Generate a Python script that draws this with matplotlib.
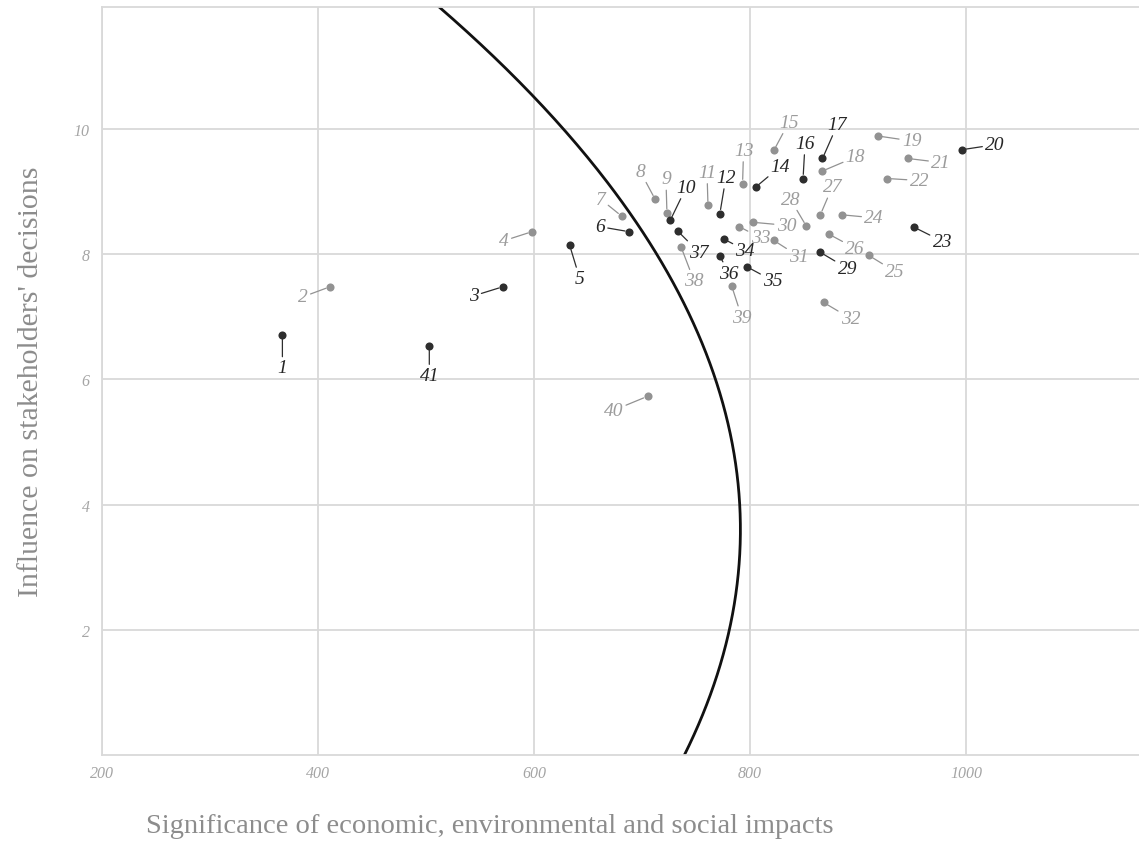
import numpy as np
import matplotlib
matplotlib.use("Agg")
import matplotlib.pyplot as plt

# materiality matrix: topic id, significance (x), influence (y), highlighted?
topic_ids = list(range(1, 42))
significance = [367, 411, 571, 598, 633, 688, 681, 712, 723, 726,
                761, 772, 793, 805, 822, 849, 867, 867, 918, 996,
                946, 927, 952, 885, 910, 873, 865, 852, 865, 803,
                822, 868, 790, 776, 797, 772, 733, 736, 783, 705, 503]
influence = [6.71, 7.48, 7.48, 8.36, 8.14, 8.36, 8.61, 8.88, 8.66, 8.54,
             8.78, 8.65, 9.13, 9.07, 9.66, 9.21, 9.53, 9.33, 9.89, 9.67,
             9.53, 9.21, 8.43, 8.63, 7.98, 8.32, 8.63, 8.45, 8.03, 8.51,
             8.22, 7.23, 8.44, 8.24, 7.80, 7.97, 8.37, 8.12, 7.49, 5.73, 6.54]
material_ids = [1, 3, 5, 6, 10, 12, 14, 16, 17, 20, 23, 29, 34, 35, 36, 37, 41]

x_ticks = [200, 400, 600, 800, 1000]
y_ticks = [2, 4, 6, 8, 10]

# threshold curve: apex and bend
apex_x, apex_y, bend = 791, 3.6, 4.0

# label offsets in pixels (dx, dy) relative to each dot
label_offsets = {
    1: (0, -33), 2: (-27, -10), 3: (-29, -9), 4: (-28, -9), 5: (10, -33),
    6: (-29, 5), 7: (-21, 17), 8: (-15, 28), 9: (-1, 34), 10: (16, 33),
    11: (-1, 33), 12: (6, 36), 13: (1, 33), 14: (25, 21), 15: (15, 28),
    16: (2, 35), 17: (15, 34), 18: (33, 14), 19: (34, -5), 20: (33, 5),
    21: (33, -4), 22: (32, -2), 23: (28, -14), 24: (32, -3), 25: (26, -16),
    26: (26, -14), 27: (12, 28), 28: (-16, 27), 29: (27, -16), 30: (33, -3),
    31: (25, -16), 32: (27, -16), 33: (21, -11), 34: (21, -11), 35: (26, -14),
    36: (9, -17), 37: (21, -21), 38: (13, -34), 39: (10, -31), 40: (-34, -14),
    41: (0, -30),
}

serif = "Liberation Serif"
grid_col = "#d9d9d9"
dark_col, gray_col = "#2e2e2e", "#929292"
dark_txt, gray_txt = "#262626", "#9c9c9c"

fig = plt.figure(figsize=(11.39, 8.54), dpi=100)
ax = fig.add_axes([102 / 1139, 98 / 854, 1 - 102 / 1139, 748 / 854])

ax.set_xlim(200, 1160)
ax.set_ylim(0, 11.95)
ax.set_xticks(x_ticks)
ax.set_yticks(y_ticks)
ax.grid(True, color=grid_col, lw=1.3)
ax.set_axisbelow(True)
for side in ["left", "bottom", "top"]:
    ax.spines[side].set_color(grid_col)
    ax.spines[side].set_linewidth(1.3)
ax.spines["right"].set_visible(False)
ax.tick_params(length=0, labelcolor="#a5a5a5", labelsize=11.5)
ax.tick_params(axis="x", pad=7)
ax.tick_params(axis="y", pad=9)
for lab in ax.get_xticklabels() + ax.get_yticklabels():
    lab.set_fontfamily(serif)
    lab.set_fontstyle("italic")

# threshold curve
cy = np.linspace(0, 12, 300)
cx = apex_x - bend * (cy - apex_y) ** 2
ax.plot(cx, cy, color="#111111", lw=2.0, zorder=2)

for i, xv, yv in zip(topic_ids, significance, influence):
    hi = i in material_ids
    dot = dark_col if hi else gray_col
    txt = dark_txt if hi else gray_txt
    ax.scatter(xv, yv, s=34, color=dot, zorder=4, linewidths=0)
    ax.annotate(str(i), (xv, yv), xytext=label_offsets[i], textcoords="offset pixels",
                ha="center", va="center", fontsize=14, fontfamily=serif,
                fontstyle="italic", color=txt,
                arrowprops=dict(arrowstyle="-", color=dot, lw=0.9,
                                shrinkA=0, shrinkB=3))

ax.set_xlabel("Significance of economic, environmental and social impacts",
              fontsize=20.5, fontfamily=serif, color="#8c8c8c")
ax.xaxis.set_label_coords(0.374, -0.078)
ax.set_ylabel("Influence on stakeholders' decisions",
              fontsize=21.5, fontfamily=serif, color="#8c8c8c")
ax.yaxis.set_label_coords(-0.056, 0.5)

fig.savefig("out.png", dpi=100)
